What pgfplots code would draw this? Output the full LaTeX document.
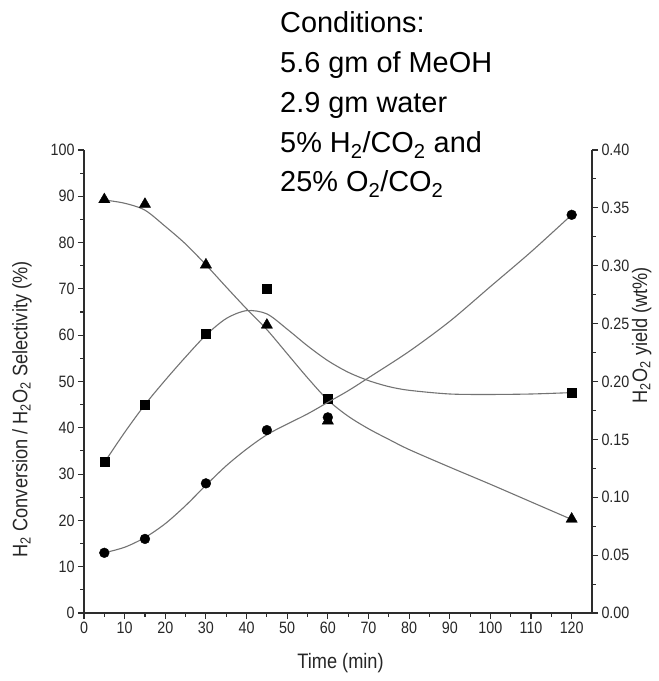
\documentclass[border=0pt]{standalone}
\usepackage{pgfplots}
\pgfplotsset{compat=1.18}
\usetikzlibrary{calc}
\usepackage{fontspec}
\setmainfont{Liberation Sans}
\newfontfamily\narrowfont[FakeStretch=0.87]{Liberation Sans}
\definecolor{curvegray}{RGB}{115,115,115}
\definecolor{axisgray}{RGB}{45,45,45}

\pgfplotsset{
  kinetics/.style={
    width=508bp, height=463bp, scale only axis,
    xmin=0, xmax=125,
    tick align=outside,
    major tick length=6bp, minor tick length=3.5bp,
    every tick/.style={axisgray, line width=1.1bp},
    axis line style={axisgray, line width=1.6bp},
    ticklabel style={font=\narrowfont\fontsize{16.5}{16.5}\selectfont, text=black!85},
    /pgf/number format/assume math mode=true,
    label style={font=\narrowfont\fontsize{21}{21}\selectfont, text=black!85},
  },
  fit/.style={curvegray, line width=1.1bp, smooth, no markers},
}

\begin{document}
\begin{tikzpicture}
\begin{axis}[kinetics, name=main,
  ymin=0, ymax=100,
  axis x line*=bottom, axis y line*=left,
  xtick={0,10,...,120}, minor xtick={5,15,...,115},
  ytick={0,10,...,100}, minor ytick={5,15,...,95},
  xlabel={Time (min)},
  ylabel={H\textsubscript{2} Conversion / H\textsubscript{2}O\textsubscript{2} Selectivity (\%)},
  xlabel style={at={(axis description cs:0.505,-0.108)}, anchor=center},
  ylabel style={at={(axis description cs:-0.122,0.44)}, anchor=center},
]
  % fitted curves
  \addplot[fit] coordinates {
    (5,89.2)(10,88.5)(15,87)(20,83.5)(25,79.7)(30,75.2)(35,70.4)(40,65.7)
    (45,61.2)(50,56)(55,50.8)(60,46)(65,42.5)(70,39.8)(75,37.5)(80,35.3)
    (90,31.5)(100,27.8)(110,24)(120,20.2)};
  \addplot[fit] coordinates {
    (5,32.5)(10,39)(15,45)(20,50.3)(25,55.3)(30,60)(35,63.6)(40,65.3)
    (45,64.6)(50,61.3)(55,57.7)(60,54.5)(65,52)(70,50.2)(75,48.9)(80,48.1)
    (90,47.3)(100,47.2)(110,47.3)(120,47.6)};
  % measured points
  \addplot[only marks, mark=triangle*, mark size=6.5bp, black] coordinates {
    (5,89.3)(15,88.3)(30,75.2)(45,62.2)(60,41.5)(120,20.3)};
  \addplot[only marks, mark=square*, mark size=4.6bp, black] coordinates {
    (5,32.6)(15,45)(30,60.3)(45,70)(60,46.3)(120,47.6)};
\end{axis}

\begin{axis}[kinetics,
  ymin=0, ymax=0.4,
  axis x line=none, axis y line*=right,
  ytick={0,0.05,0.1,0.15,0.2,0.25,0.3,0.35,0.4},
  minor ytick={0.025,0.075,0.125,0.175,0.225,0.275,0.325,0.375},
  yticklabel style={/pgf/number format/.cd, fixed, fixed zerofill, precision=2},
  ylabel={H\textsubscript{2}O\textsubscript{2} yield (wt\%)},
  ylabel style={at={(axis description cs:1.098,0.6)}, anchor=center},
]
  \addplot[fit] coordinates {
    (5,0.052)(10,0.0568)(15,0.0652)(20,0.0772)(25,0.0928)(30,0.1104)(35,0.1272)
    (40,0.1416)(45,0.154)(50,0.1632)(55,0.172)(60,0.182)(65,0.192)(70,0.2032)
    (80,0.226)(90,0.252)(100,0.282)(110,0.312)(120,0.344)};
  \addplot[only marks, mark=*, mark size=4.9bp, black] coordinates {
    (5,0.052)(15,0.064)(30,0.112)(45,0.158)(60,0.169)(120,0.344)};
\end{axis}

% conditions box text
\begin{scope}[every node/.style={anchor=base west, inner sep=0pt, font=\fontsize{29}{29}\selectfont}]
  \node at ($(main.south west)+(196bp,580bp)$) {Conditions:};
  \node at ($(main.south west)+(196bp,540bp)$) {5.6 gm of MeOH};
  \node at ($(main.south west)+(196bp,500bp)$) {2.9 gm water};
  \node at ($(main.south west)+(196bp,460bp)$) {5\% H\textsubscript{2}/CO\textsubscript{2} and};
  \node at ($(main.south west)+(196bp,421bp)$) {25\% O\textsubscript{2}/CO\textsubscript{2}};
\end{scope}

\pgfresetboundingbox
\path[use as bounding box] ($(main.south west)+(-84bp,-68bp)$) rectangle ($(main.south west)+(575bp,613bp)$);
\end{tikzpicture}
\end{document}
